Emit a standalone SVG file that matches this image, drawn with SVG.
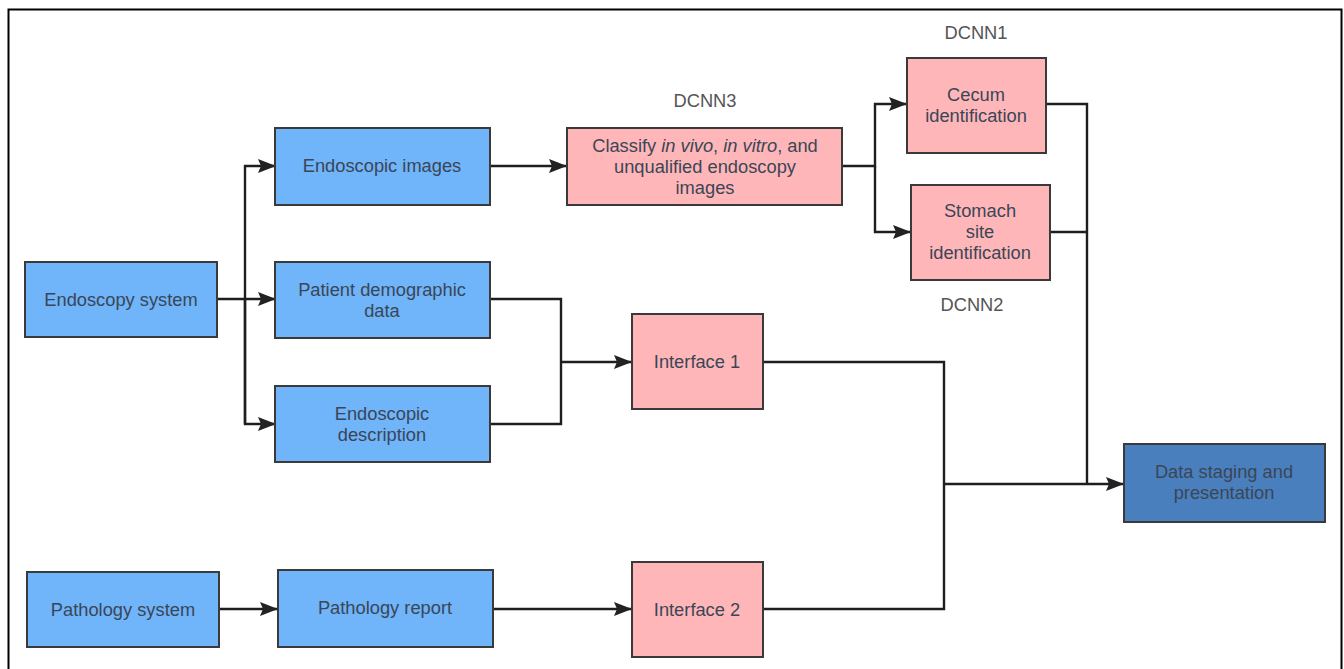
<svg xmlns="http://www.w3.org/2000/svg" width="1344" height="669" viewBox="0 0 1344 669">
<defs>
<style>
.box{stroke:#3a3a3a;stroke-width:2}
.blue{fill:#70b4fa}
.dblue{fill:#4a7fbd}
.pink{fill:#ffb6b9}
text{font-family:"Liberation Sans",Arial,sans-serif;font-size:18.3px;text-anchor:middle;fill:#3a4656}
.lbl{fill:#555555}
.ln{fill:none;stroke:#1e1e1e;stroke-width:2.4}
</style>
<marker id="arr" viewBox="0 0 18 14" refX="17" refY="7" markerWidth="18" markerHeight="14" markerUnits="userSpaceOnUse" orient="auto">
<path d="M0,0 L18,7 L0,14 L3,7 z" fill="#222222"/>
</marker>
</defs>
<rect x="0" y="0" width="1344" height="669" fill="#ffffff"/>
<rect x="8.5" y="9.5" width="1333" height="680" fill="none" stroke="#000" stroke-width="2"/>

<g id="connectors">
<path class="ln" d="M217,299 H275" marker-end="url(#arr)"/>
<path class="ln" d="M245,424 V166 H275" marker-end="url(#arr)"/>
<path class="ln" d="M245,299 V424 H275" marker-end="url(#arr)"/>
<path class="ln" d="M490,166 H566" marker-end="url(#arr)"/>
<path class="ln" d="M842,166 H875 V104 H906" marker-end="url(#arr)"/>
<path class="ln" d="M875,166 V232 H910" marker-end="url(#arr)"/>
<path class="ln" d="M490,299 H561 V424 H490"/>
<path class="ln" d="M561,362 H631" marker-end="url(#arr)"/>
<path class="ln" d="M763,362 H944 V609 H763"/>
<path class="ln" d="M944,484 H1123" marker-end="url(#arr)"/>
<path class="ln" d="M1046,104 H1087 V484"/>
<path class="ln" d="M1050,232 H1087"/>
<path class="ln" d="M219,609 H277" marker-end="url(#arr)"/>
<path class="ln" d="M493,609 H631" marker-end="url(#arr)"/>
</g>

<g id="endoscopy-system">
<rect class="box blue" x="25" y="262" width="192" height="75"/>
<text x="121" y="306">Endoscopy system</text>
</g>
<g id="endoscopic-images">
<rect class="box blue" x="275" y="128" width="215" height="77"/>
<text x="382" y="172">Endoscopic images</text>
</g>
<g id="patient-demographic">
<rect class="box blue" x="275" y="262" width="215" height="76"/>
<text x="382" y="296">Patient demographic<tspan x="382" dy="21">data</tspan></text>
</g>
<g id="endoscopic-description">
<rect class="box blue" x="275" y="386" width="215" height="76"/>
<text x="382" y="420">Endoscopic<tspan x="382" dy="21">description</tspan></text>
</g>
<g id="classify">
<rect class="box pink" x="567" y="128" width="275" height="77"/>
<text x="705" y="152">Classify <tspan font-style="italic">in vivo</tspan>, <tspan font-style="italic">in vitro</tspan>, and<tspan x="705" dy="21">unqualified endoscopy</tspan><tspan x="705" dy="21">images</tspan></text>
<text class="lbl" x="705" y="107">DCNN3</text>
</g>
<g id="cecum">
<rect class="box pink" x="907" y="58" width="139" height="95"/>
<text x="976" y="101">Cecum<tspan x="976" dy="21">identification</tspan></text>
<text class="lbl" x="976" y="39">DCNN1</text>
</g>
<g id="stomach">
<rect class="box pink" x="911" y="185" width="139" height="95"/>
<text x="980" y="217">Stomach<tspan x="980" dy="21">site</tspan><tspan x="980" dy="21">identification</tspan></text>
<text class="lbl" x="972" y="311">DCNN2</text>
</g>
<g id="interface1">
<rect class="box pink" x="632" y="314" width="131" height="95"/>
<text x="697" y="368">Interface 1</text>
</g>
<g id="interface2">
<rect class="box pink" x="632" y="562" width="131" height="95"/>
<text x="697" y="616">Interface 2</text>
</g>
<g id="pathology-system">
<rect class="box blue" x="27" y="572" width="192" height="75"/>
<text x="123" y="616">Pathology system</text>
</g>
<g id="pathology-report">
<rect class="box blue" x="278" y="570" width="215" height="77"/>
<text x="385" y="614">Pathology report</text>
</g>
<g id="data-staging">
<rect class="box dblue" x="1124" y="444" width="201" height="78"/>
<text x="1224" y="478">Data staging and<tspan x="1224" dy="21">presentation</tspan></text>
</g>
</svg>
